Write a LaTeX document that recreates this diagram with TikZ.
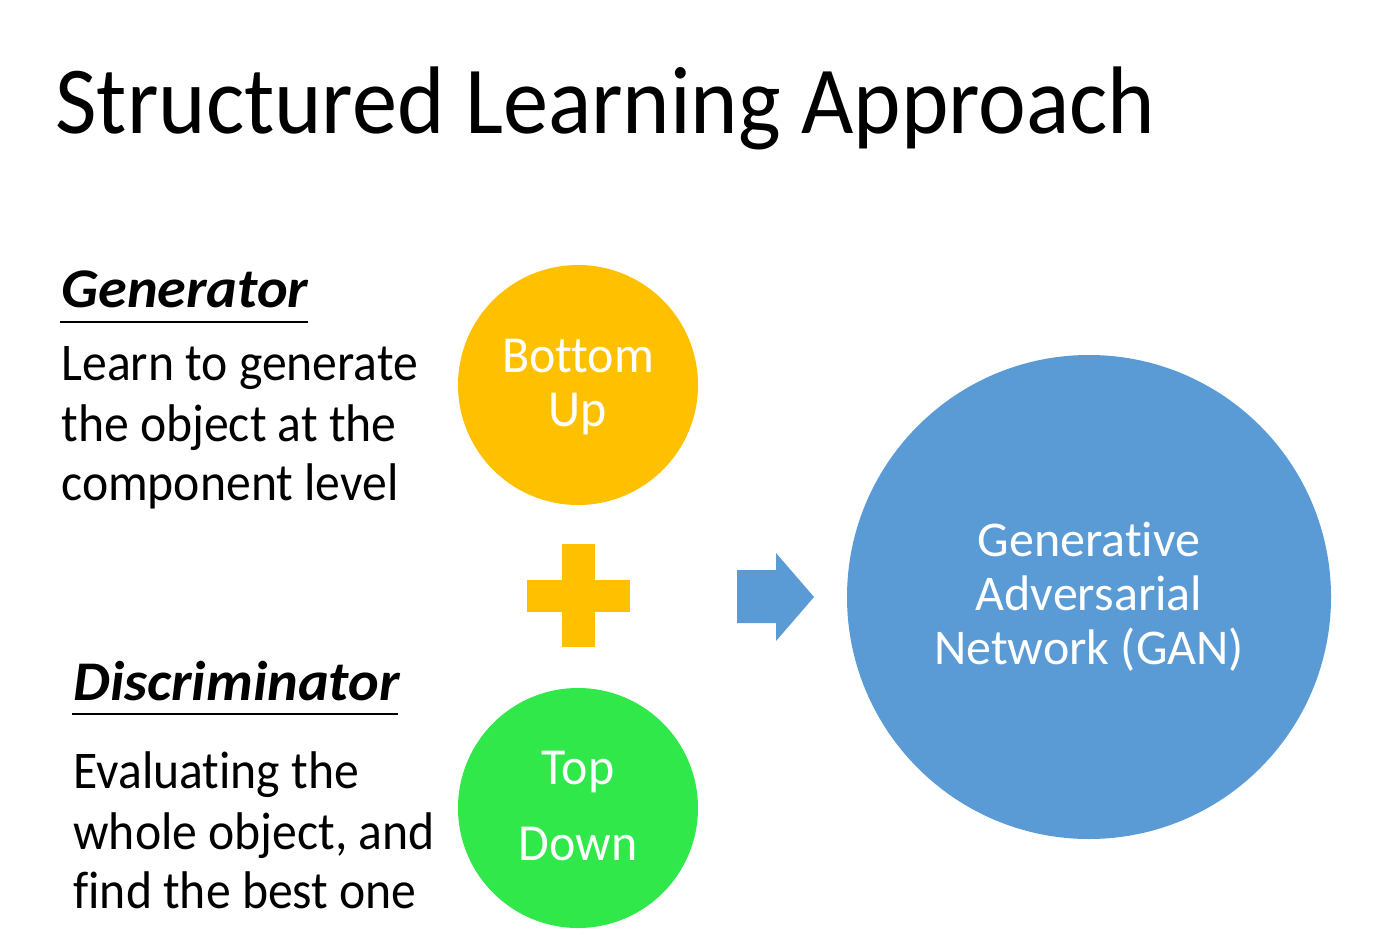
\documentclass[tikz,border=0pt]{standalone}
\usepackage{fontspec}
\setmainfont{Carlito}[Ligatures=CommonOff]
\newfontfamily\titlef{Carlito}[Ligatures=CommonOff,FakeStretch=0.941]
\newfontfamily\bodyf{Carlito}[Ligatures=CommonOff,FakeStretch=0.9375]
\newfontfamily\headf{Carlito}[Ligatures=CommonOff,FakeStretch=1.04]
\newfontfamily\circf{Carlito}[Ligatures=CommonOff,FakeStretch=0.96]
\definecolor{gold}{HTML}{FFC000}
\definecolor{lime}{HTML}{30E84A}
\definecolor{sky}{HTML}{5B9BD5}
\begin{document}
\begin{tikzpicture}[x=0.5pt,y=-0.5pt,
  bodytext/.style={anchor=base west,inner sep=0pt,font=\bodyf\fontsize{26.5}{30}\selectfont},
  headtext/.style={anchor=base west,inner sep=0pt,font=\headf\fontsize{28}{30}\selectfont\bfseries\itshape},
  circtext/.style={anchor=base,inner sep=0pt,text=white,font=\circf\fontsize{26}{28}\selectfont},
  gantext/.style={anchor=base,inner sep=0pt,text=white,font=\fontsize{25}{27}\selectfont},
  disc/.style={circle,inner sep=0pt,draw=none}]
\useasboundingbox[fill=white] (0,0) rectangle (1395,951);
% title
\node[anchor=base west,inner sep=0pt,font=\titlef\fontsize{48}{52}\selectfont] (title) at (55,134) {Structured Learning Approach};
% generator
\node[headtext] (gen) at (61,308) {Generator};
\draw[line width=1.3pt] (60,322) -- (308,322);
\node[bodytext] (g1) at (61,381) {Learn to generate};
\node[bodytext] (g2) at (61,441) {the object at the};
\node[bodytext] (g3) at (61,500) {component level};
% discriminator
\node[headtext] (dis) at (73,700) {Discriminator};
\draw[line width=1.3pt] (72,714) -- (398,714);
\node[bodytext] (d1) at (73,788) {Evaluating the};
\node[bodytext] (d2) at (73,849) {whole object, and};
\node[bodytext] (d3) at (73,908) {find the best one};
% circles
\node[disc,fill=gold,minimum size=120pt] (bu) at (578,385) {};
\node[circtext] (bu1) at (578,372) {Bottom};
\node[circtext] (bu2) at (578,426) {Up};
\node[disc,fill=lime,minimum size=120pt] (td) at (578,808) {};
\node[circtext] (td1) at (578,784) {Top};
\node[circtext] (td2) at (578,860) {Down};
% plus
\fill[gold] (562,544) rectangle (595,647);
\fill[gold] (527,580) rectangle (630,612);
% arrow
\fill[sky] (737,570) -- (776,570) -- (776,553) -- (814,597) -- (776,641) -- (776,623) -- (737,623) -- cycle;
% GAN
\node[disc,fill=sky,minimum size=242pt] (gan) at (1089,597) {};
\node[gantext] (gan1) at (1089,556) {Generative};
\node[gantext] (gan2) at (1089,610) {Adversarial};
\node[gantext] (gan3) at (1089,664) {Network (GAN)};
\end{tikzpicture}
\end{document}
